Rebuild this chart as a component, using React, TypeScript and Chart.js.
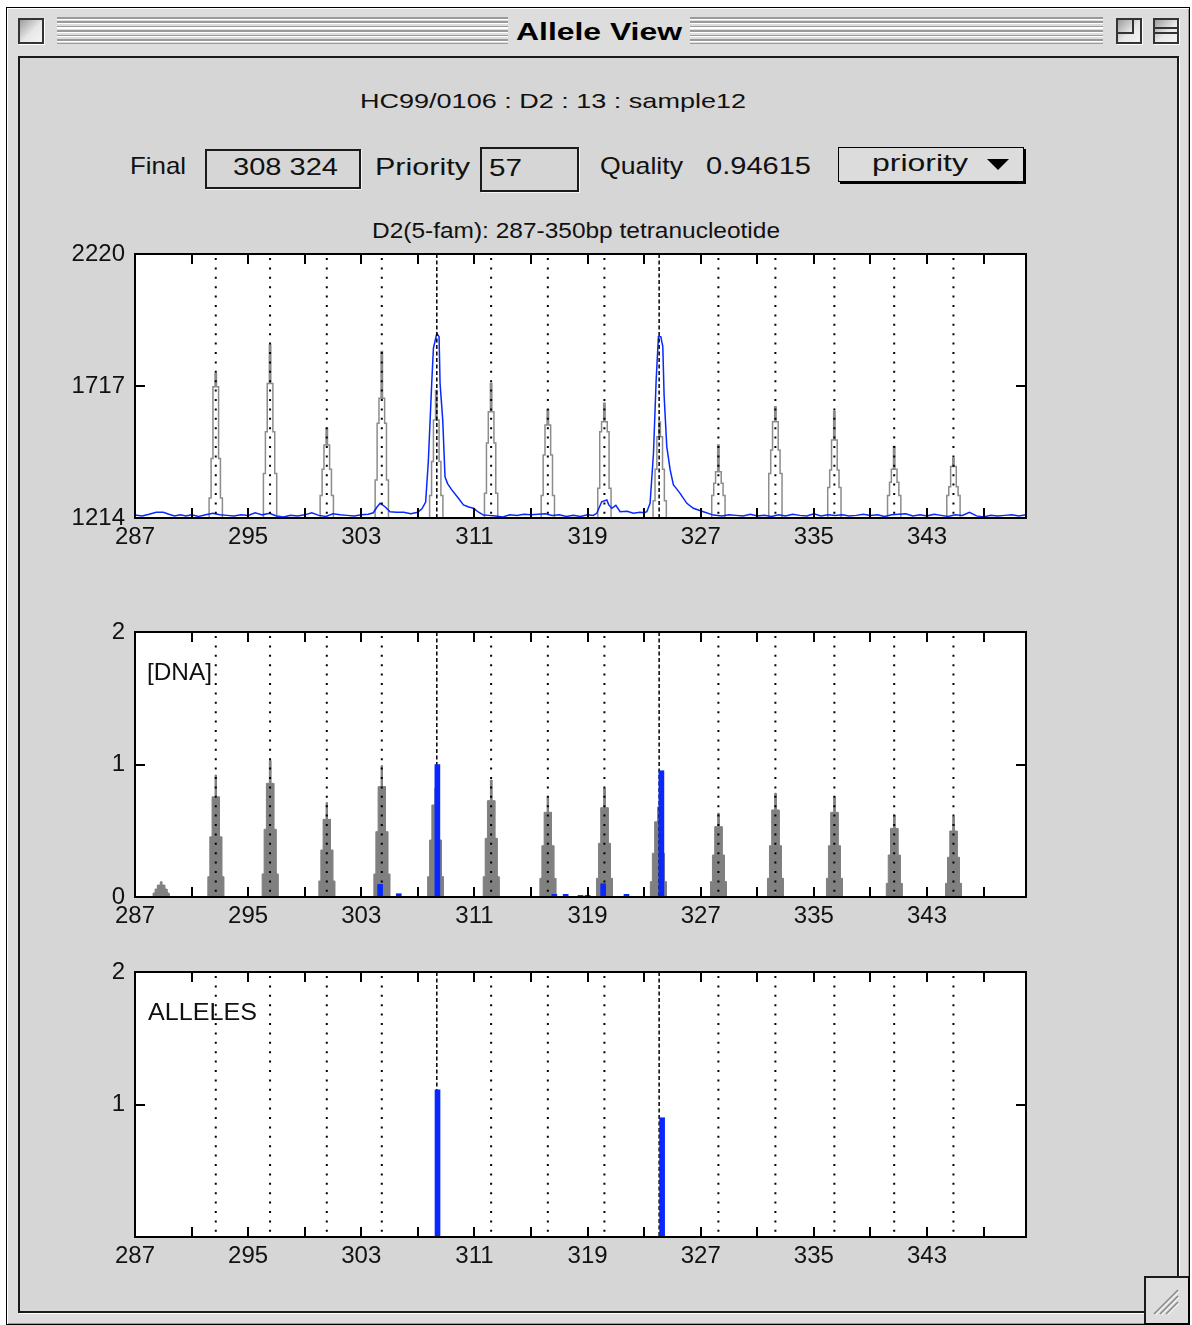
import React, { useEffect, useRef } from 'react';
import { Chart, registerables } from 'chart.js';

Chart.register(...registerables);

const FONT = '"Liberation Sans", Arial, sans-serif';
Chart.defaults.font.family = FONT;

// ---------- shared axis data ----------
const xMin = 287;
const xMax = 350;
const xTickValues = [291, 295, 299, 303, 307, 311, 315, 319, 323, 327, 331, 335, 339, 343, 347];
const xLabelValues = [287, 295, 303, 311, 319, 327, 335, 343];

// allele bins (dotted) and final called alleles (dashed)
const binCenters = [292.71, 296.55, 300.56, 304.45, 312.18, 316.19, 320.19, 328.25, 332.28, 336.45, 340.68, 344.87];
const finalAlleleBins = [308.34, 324.06];

// ---------- top panel: raw signal ----------
const signalTicks = [1214, 1717, 2220];
const traceBp = [
  287.0, 287.5, 288.0, 288.5, 289.0, 289.4, 289.8, 290.2, 290.6, 291.0, 291.5, 292.0, 292.5, 293.0, 293.5,
  294.0, 294.5, 295.0, 295.5, 296.0, 296.5, 297.0, 297.5, 298.0, 298.5, 299.0, 299.5, 300.0, 300.5, 301.0,
  301.5, 302.0, 302.5, 303.0, 303.5, 303.85, 304.1, 304.33, 304.68, 305.03, 305.5, 306.0, 306.5, 307.0,
  307.3, 307.55, 307.74, 307.98, 308.1, 308.34, 308.5, 308.57, 308.76, 308.92, 309.1, 309.4, 309.87,
  310.22, 310.6, 310.93, 311.3, 311.63, 312.0, 312.5, 313.0, 313.5, 314.0, 314.5, 315.0, 315.5, 316.0,
  316.5, 317.0, 317.5, 318.0, 318.5, 319.0, 319.4, 319.65, 320.0, 320.36, 320.5, 320.71, 321.0, 321.3,
  321.8, 322.24, 322.7, 323.0, 323.19, 323.42, 323.66, 323.85, 324.01, 324.18, 324.32, 324.41, 324.6,
  324.84, 325.07, 325.3, 325.54, 326.02, 326.48, 327.19, 327.9, 328.5, 329.0, 329.5, 330.0, 330.5, 331.0,
  331.5, 332.0, 332.5, 333.0, 333.5, 334.0, 334.5, 335.0, 335.5, 336.0, 336.5, 337.0, 337.5, 338.0, 338.5,
  339.0, 339.5, 340.0, 340.5, 341.0, 341.5, 342.0, 342.5, 343.0, 343.5, 344.0, 344.5, 345.0, 345.5, 346.0,
  346.5, 347.0, 347.5, 348.0, 348.5, 349.0, 349.5, 350.0,
];
const traceRfu = [
  1225, 1222, 1228, 1236, 1236, 1228, 1222, 1226, 1222, 1226, 1220, 1226, 1232, 1226, 1224,
  1222, 1226, 1224, 1234, 1226, 1232, 1222, 1218, 1224, 1222, 1226, 1234, 1224, 1220, 1230,
  1226, 1224, 1222, 1226, 1228, 1234, 1255, 1270, 1257, 1238, 1236, 1236, 1230, 1236,
  1250, 1275, 1429, 1727, 1861, 1918, 1905, 1727, 1587, 1371, 1345, 1321, 1289,
  1264, 1256, 1251, 1236, 1225, 1224, 1222, 1218, 1226, 1224, 1228, 1226, 1228, 1230,
  1224, 1226, 1220, 1224, 1220, 1226, 1224, 1232, 1276, 1283, 1264, 1251, 1262, 1238,
  1240, 1232, 1236, 1234, 1238, 1270, 1461, 1740, 1905, 1905, 1867, 1683, 1486,
  1397, 1340, 1325, 1308, 1270, 1251, 1238, 1225, 1222, 1226, 1224, 1222, 1228, 1222,
  1224, 1220, 1226, 1222, 1228, 1224, 1222, 1230, 1222, 1226, 1224, 1226, 1222, 1224, 1228,
  1224, 1226, 1220, 1226, 1228, 1230, 1222, 1226, 1222, 1228, 1224, 1220, 1226, 1224, 1236,
  1222, 1218, 1224, 1222, 1224, 1226, 1222, 1226,
];
// model peaks (gray stairs) in the signal panel
const modelCenters = [292.71, 296.55, 300.56, 304.45, 308.3, 312.18, 316.19, 320.19, 324.1, 328.25, 332.28, 336.45, 340.68, 344.87];
const modelL1 = [1290, 1384, 1300, 1359, 1300, 1308, 1300, 1327, 1280, 1300, 1384, 1330, 1300, 1300];
const modelL2 = [1441, 1543, 1400, 1575, 1429, 1500, 1454, 1543, 1400, 1346, 1473, 1397, 1350, 1333];
const modelL3 = [1714, 1727, 1492, 1670, 1587, 1619, 1568, 1581, 1524, 1390, 1581, 1511, 1400, 1410];
const modelTop = [1765, 1873, 1556, 1848, 1700, 1727, 1626, 1651, 1580, 1492, 1638, 1619, 1486, 1441];

// ---------- middle panel: [DNA] ----------
const dnaTicks = [0, 1, 2];
const dnaCenters = [288.84, 292.71, 296.55, 300.56, 304.45, 308.25, 312.18, 316.19, 320.19, 324.0, 328.25, 332.28, 336.45, 340.68, 344.87];
const dnaL1 = [0.03, 0.153, 0.174, 0.121, 0.174, 0.153, 0.153, 0.141, 0.141, 0.116, 0.116, 0.141, 0.141, 0.103, 0.103];
const dnaL2 = [0.06, 0.454, 0.511, 0.355, 0.493, 0.43, 0.443, 0.387, 0.405, 0.33, 0.317, 0.387, 0.387, 0.317, 0.3];
const dnaL3 = [0.09, 0.756, 0.858, 0.586, 0.833, 0.694, 0.727, 0.639, 0.674, 0.568, 0.531, 0.657, 0.639, 0.518, 0.498];
const dnaTop = [0.115, 0.92, 1.03, 0.712, 0.991, 0.82, 0.883, 0.756, 0.82, 0.68, 0.632, 0.783, 0.757, 0.619, 0.606];
const dnaCallBp = [304.33, 305.65, 308.38, 316.65, 317.45, 318.5, 319.0, 320.1, 321.75, 324.22];
const dnaCallAmt = [0.095, 0.025, 1.0, 0.02, 0.02, 0.012, 0.012, 0.1, 0.02, 0.953];

// ---------- bottom panel: ALLELES ----------
const alleleTicks = [1, 2];
const alleleBp = [308.39, 324.27];
const alleleAmt = [1.11, 0.9];

// ---------- styling constants ----------
const BLUE = 'rgb(8,40,255)';
const GRAY = 'rgb(128,128,128)';
const modelHalfWidths = [0.47, 0.33, 0.2, 0.05];
const dnaHalfWidths = [0.56, 0.42, 0.26, 0.05];

type Pt = { x: number; y: number };

function stairs(centers: number[], levels: number[][], hw: number[], base: number): Pt[] {
  const pts: Pt[] = [{ x: xMin, y: base }];
  centers.forEach((c, i) => {
    const lv = levels.map((a) => a[i]);
    for (let k = 0; k < hw.length; k++) {
      pts.push({ x: c - hw[k], y: k === 0 ? base : lv[k - 1] });
      pts.push({ x: c - hw[k], y: lv[k] });
    }
    for (let k = hw.length - 1; k >= 0; k--) {
      pts.push({ x: c + hw[k], y: lv[k] });
      pts.push({ x: c + hw[k], y: k === 0 ? base : lv[k - 1] });
    }
  });
  pts.push({ x: xMax, y: base });
  return pts;
}

function binLineDatasets(yLo: number, yHi: number, order: number) {
  const dotted = binCenters.map((b) => ({
    type: 'line' as const,
    data: [{ x: b, y: yHi }, { x: b, y: yLo }],
    borderColor: '#000',
    borderWidth: 2,
    borderDash: [2, 7.4],
    borderDashOffset: -4,
    pointRadius: 0,
    order,
  }));
  const dashed = finalAlleleBins.map((b) => ({
    type: 'line' as const,
    data: [{ x: b, y: yHi }, { x: b, y: yLo }],
    borderColor: '#000',
    borderWidth: 1.5,
    borderDash: [4, 2.5],
    pointRadius: 0,
    order,
  }));
  return [...dotted, ...dashed];
}

function framePlugin(midVal: number) {
  return {
    id: 'frame' + midVal,
    beforeDraw(chart: any) {
      const { ctx, chartArea: a } = chart;
      ctx.save();
      ctx.fillStyle = '#fff';
      ctx.fillRect(a.left, a.top, a.right - a.left, a.bottom - a.top);
      ctx.restore();
    },
    afterDraw(chart: any) {
      const { ctx, chartArea: a, scales } = chart;
      const xs = scales.x;
      const ys = scales.y;
      ctx.save();
      ctx.strokeStyle = '#000';
      ctx.lineWidth = 2;
      ctx.strokeRect(a.left, a.top, a.right - a.left, a.bottom - a.top);
      ctx.beginPath();
      xTickValues.forEach((v) => {
        const px = Math.round(xs.getPixelForValue(v));
        ctx.moveTo(px, a.top);
        ctx.lineTo(px, a.top + 10);
        ctx.moveTo(px, a.bottom);
        ctx.lineTo(px, a.bottom - 10);
      });
      const py = Math.round(ys.getPixelForValue(midVal));
      ctx.moveTo(a.left, py);
      ctx.lineTo(a.left + 10, py);
      ctx.moveTo(a.right, py);
      ctx.lineTo(a.right - 10, py);
      ctx.stroke();
      ctx.restore();
    },
  };
}

function makeOptions(yMin: number, yMax: number, yTicks: number[], xHeight: number) {
  return {
    responsive: false,
    animation: false as const,
    events: [],
    layout: { padding: { top: 18, right: 24, left: 0, bottom: 0 } },
    plugins: { legend: { display: false }, tooltip: { enabled: false }, title: { display: false } },
    scales: {
      x: {
        type: 'linear' as const,
        min: xMin,
        max: xMax,
        offset: false,
        grid: { display: false, drawTicks: false },
        border: { display: false },
        afterBuildTicks: (s: any) => {
          s.ticks = [xMin, ...xTickValues].map((v) => ({ value: v }));
        },
        afterFit: (s: any) => {
          s.height = xHeight;
          s.paddingLeft = 0;
          s.paddingRight = 0;
        },
        ticks: {
          autoSkip: false,
          maxRotation: 0,
          minRotation: 0,
          padding: 5,
          color: '#111',
          font: { size: 24, family: FONT },
          callback: (v: any) => (xLabelValues.includes(Number(v)) ? String(v) : ''),
        },
      },
      y: {
        type: 'linear' as const,
        min: yMin,
        max: yMax,
        grid: { display: false, drawTicks: false },
        border: { display: false },
        afterBuildTicks: (s: any) => {
          s.ticks = yTicks.map((v) => ({ value: v }));
        },
        afterFit: (s: any) => {
          s.width = 95;
          s.paddingTop = 0;
          s.paddingBottom = 0;
        },
        ticks: {
          autoSkip: false,
          padding: 10,
          color: '#111',
          font: { size: 24, family: FONT },
          callback: (v: any) => String(v),
        },
      },
    },
  };
}

const measureCtx: CanvasRenderingContext2D | null =
  typeof document !== 'undefined' ? document.createElement('canvas').getContext('2d') : null;

function Txt(props: { text: string; x: number; yc: number; w?: number; size: number; bold?: boolean; color?: string }) {
  const { text, x, yc, w, size, bold = false, color = '#111' } = props;
  let sx = 1;
  if (w && measureCtx) {
    measureCtx.font = `${bold ? 'bold ' : ''}${size}px ${FONT}`;
    const m = measureCtx.measureText(text).width;
    if (m > 0) sx = w / m;
  }
  return (
    <div
      style={{
        position: 'absolute',
        left: x,
        top: yc - size * 0.49,
        fontFamily: FONT,
        fontSize: size,
        lineHeight: `${size}px`,
        fontWeight: bold ? 'bold' : 'normal',
        whiteSpace: 'pre',
        transform: `scaleX(${sx})`,
        transformOrigin: '0 0',
        color,
      }}
    >
      {text}
    </div>
  );
}

const abs = (l: number, t: number, w: number, h: number, extra: any = {}) => ({
  position: 'absolute' as const,
  left: l,
  top: t,
  width: w,
  height: h,
  boxSizing: 'border-box' as const,
  ...extra,
});

export default function App() {
  const c1 = useRef<HTMLCanvasElement>(null);
  const c2 = useRef<HTMLCanvasElement>(null);
  const c3 = useRef<HTMLCanvasElement>(null);

  useEffect(() => {
    const trace = traceBp.map((x, i) => ({ x, y: traceRfu[i] }));
    const model = stairs(modelCenters, [modelL1, modelL2, modelL3, modelTop], modelHalfWidths, 1214);
    const dnaShape = stairs(dnaCenters, [dnaL1, dnaL2, dnaL3, dnaTop], dnaHalfWidths, 0);
    const dnaCalls = dnaCallBp.map((x, i) => ({ x, y: dnaCallAmt[i] }));
    const alleles = alleleBp.map((x, i) => ({ x, y: alleleAmt[i] }));

    const chart1 = new Chart(c1.current!, {
      type: 'line',
      data: {
        datasets: [
          { data: model, borderColor: 'rgb(140,140,140)', borderWidth: 1.5, pointRadius: 0, fill: false, order: 30 },
          { data: trace, borderColor: BLUE, borderWidth: 1.5, pointRadius: 0, fill: false, order: 20 },
          ...binLineDatasets(1214, 2220, 10),
        ] as any,
      },
      options: makeOptions(1214, 2220, signalTicks, 48) as any,
      plugins: [framePlugin(1717)],
    });

    const chart2 = new Chart(c2.current!, {
      type: 'line',
      data: {
        datasets: [
          {
            data: dnaShape,
            borderColor: GRAY,
            backgroundColor: GRAY,
            borderWidth: 1,
            pointRadius: 0,
            fill: 'origin',
            order: 30,
          },
          ...binLineDatasets(0, 2, 20),
          {
            type: 'bar',
            data: dnaCalls,
            backgroundColor: BLUE,
            borderWidth: 0,
            barThickness: 5,
            order: 10,
          },
        ] as any,
      },
      options: makeOptions(0, 2, dnaTicks, 47) as any,
      plugins: [framePlugin(1)],
    });

    const chart3 = new Chart(c3.current!, {
      type: 'line',
      data: {
        datasets: [
          ...binLineDatasets(0, 2, 20),
          {
            type: 'bar',
            data: alleles,
            backgroundColor: BLUE,
            borderWidth: 0,
            barThickness: 5,
            order: 10,
          },
        ] as any,
      },
      options: makeOptions(0, 2, alleleTicks, 47) as any,
      plugins: [framePlugin(1)],
    });

    return () => {
      chart1.destroy();
      chart2.destroy();
      chart3.destroy();
    };
  }, []);

  const FRAME = '#dddddd';
  const CONTENT = '#d6d6d6';
  const stripes =
    'repeating-linear-gradient(to bottom, #9a9a9a 0px, #9a9a9a 1.6px, #ffffff 1.6px, #ffffff 2.8px, #dddddd 2.8px, #dddddd 4.4px)';
  const boxBg = 'linear-gradient(135deg, #9c9c9c 0%, #e8e8e8 55%, #f4f4f4 100%)';

  return (
    <div style={abs(0, 0, 1192, 1325, { background: '#fff', overflow: 'hidden' })}>
      {/* window frame */}
      <div
        style={abs(6, 7, 1184, 1318, {
          background: FRAME,
          border: '1px solid #000',
          boxShadow: 'inset 1px 1px 0 #fff, inset -1px -1px 0 #9a9a9a',
        })}
      />
      {/* title bar */}
      <div style={abs(18, 18, 26, 26, { border: '2px solid #333', background: boxBg, boxShadow: '1px 1px 0 #fff' })} />
      <div style={abs(57, 17, 451, 27, { background: stripes })} />
      <div style={abs(690, 17, 413, 27, { background: stripes })} />
      <Txt text="Allele View" x={516} yc={32} w={166} size={24} bold color="#000" />
      <div style={abs(1116, 18, 26, 26, { border: '2px solid #333', background: boxBg, boxShadow: '1px 1px 0 #fff' })}>
        <div style={abs(0, 0, 16, 14, { borderRight: '2px solid #333', borderBottom: '2px solid #333' })} />
      </div>
      <div style={abs(1153, 18, 26, 26, { border: '2px solid #333', background: boxBg, boxShadow: '1px 1px 0 #fff' })}>
        <div style={abs(0, 7, 22, 7, { borderTop: '2px solid #333', borderBottom: '2px solid #333' })} />
      </div>

      {/* content panel */}
      <div
        style={abs(18, 56, 1161, 1257, {
          background: CONTENT,
          border: '2px solid #1a1a1a',
          boxShadow: '1px 1px 0 #fff',
        })}
      />
      {/* grow box notch */}
      <div
        style={abs(1144, 1276, 45, 48, {
          background: FRAME,
          borderLeft: '2px solid #1a1a1a',
          borderTop: '2px solid #1a1a1a',
          borderRight: '1px solid #000',
          borderBottom: '1px solid #000',
        })}
      />
      <svg style={{ position: 'absolute', left: 1148, top: 1284, width: 36, height: 34 }} viewBox="0 0 36 34">
        {[0, 6, 12].map((d) => (
          <g key={d}>
            <line x1={6 + d} y1={30} x2={30} y2={6 + d} stroke="#8a8a8a" strokeWidth={1.6} />
            <line x1={7.5 + d} y1={31} x2={31} y2={7.5 + d} stroke="#fff" strokeWidth={1} />
          </g>
        ))}
      </svg>

      {/* header */}
      <Txt text="HC99/0106 : D2 : 13 : sample12" x={360} yc={100} w={386} size={21} />
      <Txt text="Final" x={130} yc={166} w={56} size={24} />
      <div style={abs(205, 149, 156, 40, { border: '2px solid #1a1a1a', boxShadow: '1px 1px 0 #f4f4f4' })} />
      <Txt text="308 324" x={233} yc={167} w={105} size={24} />
      <Txt text="Priority" x={375} yc={167} w={95} size={24} />
      <div style={abs(480, 147, 99, 45, { border: '2px solid #1a1a1a', boxShadow: '1px 1px 0 #f4f4f4' })} />
      <Txt text="57" x={489} yc={168} w={33} size={24} />
      <Txt text="Quality" x={600} yc={166} w={83} size={24} />
      <Txt text="0.94615" x={706} yc={166} w={105} size={24} />
      <div
        style={abs(838, 147, 186, 35, {
          border: '1.5px solid #000',
          boxShadow: '2px 2px 0 #000',
          background: '#dcdcdc',
        })}
      />
      <Txt text="priority" x={872} yc={163} w={96} size={24} />
      <div
        style={{
          position: 'absolute',
          left: 987,
          top: 159,
          width: 0,
          height: 0,
          borderLeft: '11px solid transparent',
          borderRight: '11px solid transparent',
          borderTop: '11px solid #000',
        }}
      />
      <Txt text="D2(5-fam): 287-350bp tetranucleotide" x={372} yc={231} w={408} size={22} />

      {/* charts */}
      <canvas ref={c1} width={1010} height={330} style={{ position: 'absolute', left: 40, top: 236 }} />
      <canvas ref={c2} width={1010} height={330} style={{ position: 'absolute', left: 40, top: 614 }} />
      <canvas ref={c3} width={1010} height={330} style={{ position: 'absolute', left: 40, top: 954 }} />

      <Txt text="[DNA]" x={147} yc={672} w={65} size={24} />
      <Txt text="ALLELES" x={148} yc={1012} w={109} size={24} />
    </div>
  );
}
